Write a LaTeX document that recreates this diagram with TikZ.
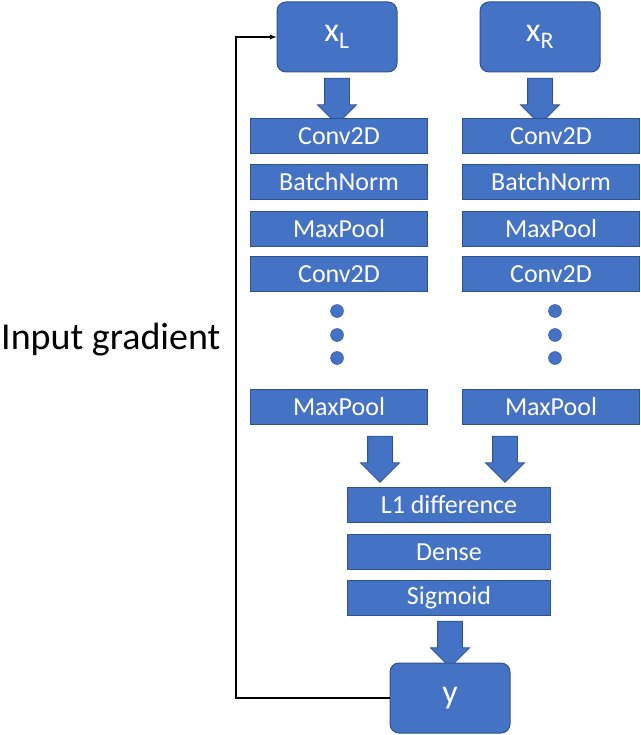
\documentclass[tikz,border=0pt]{standalone}
\usepackage{fontspec}
\setmainfont{Carlito}
\usetikzlibrary{shapes.arrows}
\definecolor{fillb}{HTML}{4472C4}
\definecolor{edgeb}{HTML}{2F528F}
\begin{document}
\begin{tikzpicture}[x=1pt,y=-1pt,
    io/.style={rectangle, rounded corners=9pt, draw=edgeb, fill=fillb, line width=1pt, minimum width=120pt, minimum height=70pt, text=white, font=\fontsize{34}{36}\selectfont},
    layer/.style={rectangle, draw=edgeb, fill=fillb, line width=1pt, minimum width=177pt, minimum height=35pt, text=white, font=\fontsize{26}{28}\selectfont},
    blk/.style={single arrow, draw=edgeb, fill=fillb, line width=0.8pt, shape border rotate=270, inner sep=12pt, minimum height=46pt, single arrow head extend=7pt, single arrow tip angle=90},
    dot/.style={circle, fill=fillb, draw=edgeb, inner sep=0pt, minimum size=13pt},
    fb/.style={-latex, line width=1.3pt}
]
\useasboundingbox (0,0) rectangle (640,735);

\node[io] (xl) at (337,37) {x$_{\mathrm{L}}$};
\node[io] (xr) at (540,37) {x$_{\mathrm{R}}$};
\node[blk] (al) at (337,95) {};
\node[blk] (ar) at (540,95) {};

% left branch
\node[layer] (l1) at (339,136) {Conv2D};
\node[layer] (l2) at (339,182) {BatchNorm};
\node[layer] (l3) at (339,229) {MaxPool};
\node[layer] (l4) at (339,274) {Conv2D};
\node[dot] (ld1) at (337,311) {};
\node[dot] (ld2) at (337,335) {};
\node[dot] (ld3) at (337,358) {};
\node[layer] (l5) at (339,407) {MaxPool};

% right branch
\node[layer] (r1) at (551,136) {Conv2D};
\node[layer] (r2) at (551,182) {BatchNorm};
\node[layer] (r3) at (551,229) {MaxPool};
\node[layer] (r4) at (551,274) {Conv2D};
\node[dot] (rd1) at (555,311) {};
\node[dot] (rd2) at (555,335) {};
\node[dot] (rd3) at (555,358) {};
\node[layer] (r5) at (551,407) {MaxPool};

\node[blk] (bl) at (380,453) {};
\node[blk] (br) at (505,453) {};

% head
\node[layer, minimum width=203pt] (h1) at (449,505) {L1 difference};
\node[layer, minimum width=203pt] (h2) at (449,552) {Dense};
\node[layer, minimum width=203pt] (h3) at (449,598) {Sigmoid};
\node[blk] (ay) at (450,638) {};
\node[io] (y) at (450,698) {y};

% feedback
\coordinate (c1) at (236,698);
\coordinate (c2) at (236,37);
\draw[fb] (y.west) -- (c1) -- (c2) -- (xl.west);
\node[font=\fontsize{38}{40}\selectfont, anchor=east] (lab) at (224,340) {Input gradient};
\end{tikzpicture}
\end{document}
